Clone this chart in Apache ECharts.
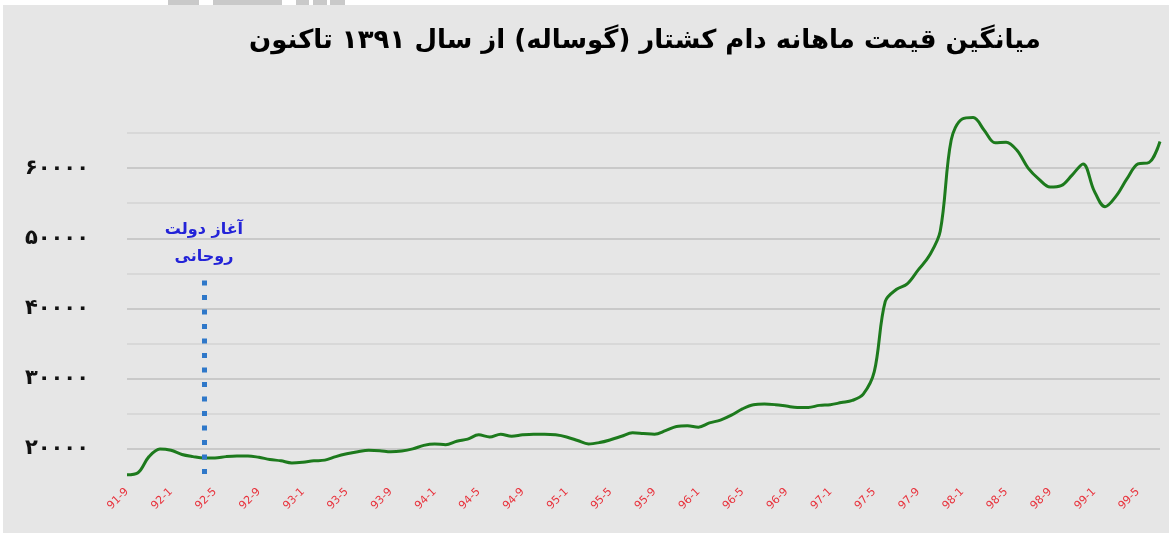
<!DOCTYPE html>
<html>
<head>
<meta charset="utf-8">
<script src="https://cdn.jsdelivr.net/npm/echarts@6/dist/echarts.min.js"></script>
<style>
  html, body { margin: 0; padding: 0; background: #ffffff; }
  #chart { width: 1169px; height: 533px; }
</style>
</head>
<body>
<div id="chart"></div>
<script>
var titleText = "میانگین قیمت ماهانه دام کشتار (گوساله) از سال ۱۳۹۱ تاکنون";
var noteText = "آغاز دولت\nروحانی";

// months from 91-9 to 99-7
var months = [];
for (var y = 91, m = 9; months.length < 95; ) {
  months.push(y + "-" + m);
  m++;
  if (m > 12) { m = 1; y++; }
}

// monthly average price
var prices = [
  16300, 16600, 18900, 20000, 19800, 19200, 18900, 18700, 18700, 18900,
  19000, 19000, 18800, 18500, 18300, 18000, 18100, 18300, 18400, 18900,
  19300, 19600, 19800, 19750, 19600, 19700, 20000, 20500, 20700, 20600,
  21100, 21400, 22000, 21700, 22100, 21800, 22000, 22100, 22100, 22000,
  21700, 21200, 20700, 20900, 21300, 21800, 22300, 22200, 22100, 22600,
  23200, 23300, 23100, 23700, 24100, 24800, 25700, 26300, 26400, 26300,
  26100, 25900, 25900, 26200, 26300, 26600, 26900, 27800, 31000, 41000,
  42700, 43500, 45500, 47500, 51000, 64000, 67000, 67200, 65400, 63600,
  63700, 62500, 60000, 58400, 57300, 57500, 59000, 60600, 56800, 54500,
  56000, 58500, 60600, 60800, 63800
];

// y tick labels in Persian digits
var yTickValues = [20000, 30000, 40000, 50000, 60000];
var yTickLabels = ["۲۰۰۰۰", "۳۰۰۰۰", "۴۰۰۰۰", "۵۰۰۰۰", "۶۰۰۰۰"];

var markMonth = "92-4";

var chart = echarts.init(document.getElementById("chart"));

var option = {
  backgroundColor: "#e6e6e6",
  animation: false,
  title: {
    text: titleText,
    left: 640,
    top: 23,
    textAlign: "center",
    textStyle: {
      fontFamily: "DejaVu Sans",
      fontWeight: "bold",
      fontSize: 26,
      color: "#000"
    }
  },
  graphic: [
    { type: "rect", left: 0, top: 0, shape: { width: 1169, height: 5 }, style: { fill: "#ffffff" } },
    { type: "rect", left: 0, top: 0, shape: { width: 3, height: 533 }, style: { fill: "#ffffff" } },
    { type: "rect", left: 168, top: 0, shape: { width: 31, height: 5 }, style: { fill: "#c9c9c9" } },
    { type: "rect", left: 213, top: 0, shape: { width: 69, height: 5 }, style: { fill: "#c9c9c9" } },
    { type: "rect", left: 296, top: 0, shape: { width: 13, height: 5 }, style: { fill: "#c9c9c9" } },
    { type: "rect", left: 313, top: 0, shape: { width: 14, height: 5 }, style: { fill: "#c9c9c9" } },
    { type: "rect", left: 330, top: 0, shape: { width: 15, height: 5 }, style: { fill: "#c9c9c9" } }
  ],
  grid: { left: 127, right: 9, top: 133, bottom: 49, containLabel: false },
  xAxis: {
    type: "category",
    data: months,
    boundaryGap: false,
    axisLine: { show: false },
    axisTick: { show: false },
    axisLabel: {
      interval: 3,
      rotate: 45,
      margin: 6,
      color: "#e8323c",
      fontFamily: "DejaVu Sans",
      fontSize: 11
    }
  },
  yAxis: {
    type: "value",
    min: 15000,
    max: 65000,
    interval: 5000,
    axisLine: { show: false },
    axisTick: { show: false },
    axisLabel: {
      margin: 38,
      color: "#111",
      fontFamily: "DejaVu Sans",
      fontWeight: "bold",
      fontSize: 21,
      formatter: function (v) {
        var i = yTickValues.indexOf(v);
        return i >= 0 ? yTickLabels[i] : "";
      }
    },
    splitLine: {
      lineStyle: {
        width: 2,
        color: ["transparent", "#c9c9c9", "#d8d8d8", "#c9c9c9", "#d8d8d8",
                "#c9c9c9", "#d8d8d8", "#c9c9c9", "#d8d8d8", "#c9c9c9", "#d8d8d8"]
      }
    }
  },
  series: [
    {
      type: "line",
      data: prices,
      smooth: 0.35,
      showSymbol: false,
      clip: false,
      lineStyle: { color: "#1d7a1d", width: 3 },
      markLine: {
        silent: true,
        symbol: "none",
        lineStyle: { color: "#2f78c9", width: 5, type: [5, 9.5], cap: "butt" },
        label: {
          show: true,
          position: "start",
          distance: 10,
          formatter: noteText,
          color: "#2323d8",
          fontFamily: "DejaVu Sans",
          fontWeight: "bold",
          fontSize: 16,
          lineHeight: 27
        },
        data: [[
          { coord: [markMonth, 44000] },
          { coord: [markMonth, 16300] }
        ]]
      }
    }
  ]
};

chart.setOption(option);
</script>
</body>
</html>
